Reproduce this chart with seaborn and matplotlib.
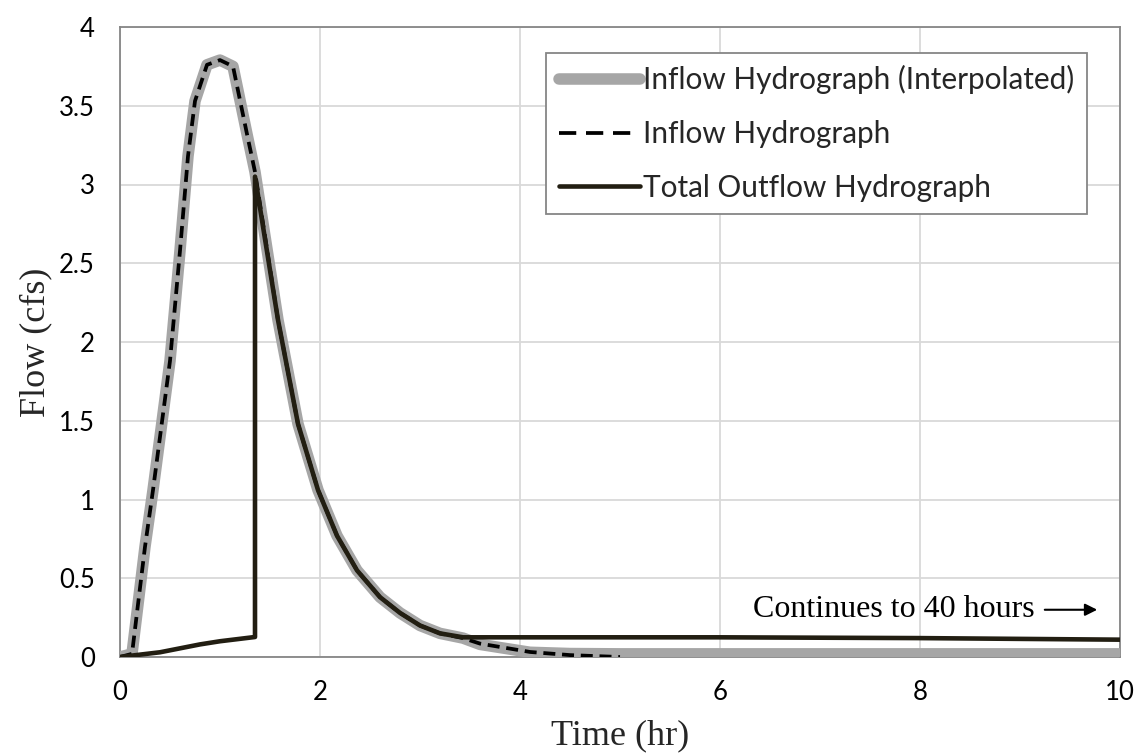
import matplotlib
matplotlib.use("Agg")
import matplotlib.pyplot as plt
import seaborn as sns
import pandas as pd
from matplotlib.ticker import MultipleLocator, FuncFormatter

# ---- data ----
inflow_t = [0.0, 0.12, 0.25, 0.33, 0.5, 0.6, 0.68, 0.75, 0.87, 1.0, 1.13, 1.27, 1.35,
            1.58, 1.78, 1.98, 2.17, 2.37, 2.6, 2.8, 3.0, 3.2, 3.43, 3.6, 4.1, 4.5, 5.0]
inflow_q = [0.0, 0.02, 0.70, 1.06, 1.88, 2.58, 3.18, 3.53, 3.76, 3.79, 3.75, 3.32, 3.08,
            2.14, 1.48, 1.06, 0.77, 0.55, 0.38, 0.28, 0.20, 0.15, 0.12, 0.085, 0.032, 0.012, 0.0]

interp_t = [0.0, 0.12, 0.25, 0.33, 0.5, 0.6, 0.68, 0.75, 0.87, 1.0, 1.13, 1.27, 1.35,
            1.58, 1.78, 1.98, 2.17, 2.37, 2.6, 2.8, 3.0, 3.2, 3.43, 3.6, 4.1, 4.5, 5.0, 10.0]
interp_q = [0.0, 0.02, 0.70, 1.06, 1.88, 2.58, 3.18, 3.53, 3.76, 3.79, 3.75, 3.32, 3.08,
            2.14, 1.48, 1.06, 0.77, 0.55, 0.38, 0.28, 0.20, 0.15, 0.12, 0.08, 0.03, 0.022, 0.02, 0.02]

outflow_t = [0.0, 0.4, 0.8, 1.0, 1.35, 1.35, 1.58, 1.78, 1.98, 2.17, 2.37, 2.6, 2.8,
             3.0, 3.2, 3.43, 6.0, 8.0, 10.0]
outflow_q = [0.0, 0.03, 0.08, 0.10, 0.127, 3.05, 2.14, 1.48, 1.06, 0.77, 0.55, 0.38, 0.28,
             0.20, 0.15, 0.125, 0.125, 0.12, 0.11]

series_labels = ["Inflow Hydrograph (Interpolated)", "Inflow Hydrograph", "Total Outflow Hydrograph"]
x_ticks = [0, 2, 4, 6, 8, 10]
y_ticks = [0, 0.5, 1, 1.5, 2, 2.5, 3, 3.5, 4]
x_title = "Time (hr)"
y_title = "Flow (cfs)"
note_text = "Continues to 40 hours"

# ---- styling ----
sns.set_style("white")
plt.rcParams["font.family"] = ["Lato", "DejaVu Sans"]

W, H = 1137, 756
fig = plt.figure(figsize=(W / 100, H / 100), dpi=100)
ax = fig.add_axes([120 / W, (H - 657) / H, 1000 / W, 630 / H])

df_interp = pd.DataFrame({"t": interp_t, "q": interp_q})
df_in = pd.DataFrame({"t": inflow_t, "q": inflow_q})
df_out = pd.DataFrame({"t": outflow_t, "q": outflow_q})

sns.lineplot(data=df_interp, x="t", y="q", ax=ax, sort=False, estimator=None,
             color="#a6a6a6", linewidth=8.3, solid_capstyle="round",
             solid_joinstyle="round", label=series_labels[0], zorder=3)
sns.lineplot(data=df_in, x="t", y="q", ax=ax, sort=False, estimator=None,
             color="black", linewidth=2.7, label=series_labels[1], zorder=4)
ax.lines[-1].set_dashes([3.2, 1.8])
sns.lineplot(data=df_out, x="t", y="q", ax=ax, sort=False, estimator=None,
             color="#221e12", linewidth=3.3, label=series_labels[2], zorder=5)

ax.set_xlim(0, 10)
ax.set_ylim(0, 4)
ax.set_xticks(x_ticks)
ax.set_yticks(y_ticks)
ax.xaxis.set_minor_locator(MultipleLocator(0.4))
ax.yaxis.set_minor_locator(MultipleLocator(0.1))
fmt = FuncFormatter(lambda v, p: f"{v:g}")
ax.xaxis.set_major_formatter(fmt)
ax.yaxis.set_major_formatter(fmt)

ax.grid(True, which="major", color="#d9d9d9", linewidth=1.3, zorder=0)
ax.set_axisbelow(True)
for s in ax.spines.values():
    s.set_color("#868686")
    s.set_linewidth(1.3)
    s.set_visible(True)

ax.tick_params(axis="both", which="major", direction="inout", length=12, width=1.3,
               color="#868686", labelsize=18.5, labelcolor="black")
ax.tick_params(axis="both", which="minor", direction="in", length=5, width=1.3,
               color="#868686")
ax.tick_params(axis="x", which="major", pad=10.5)
ax.tick_params(axis="y", which="major", pad=12)
ax.tick_params(top=False, right=False, which="both")

ax.set_xlabel(x_title, family="Liberation Serif", fontsize=26, labelpad=10.5)
ax.set_ylabel(y_title, family="Liberation Serif", fontsize=26, labelpad=5)

ax.annotate("", xy=(9.8, 0.30), xytext=(9.22, 0.30),
            arrowprops=dict(arrowstyle="-|>", color="black", lw=1.5,
                            mutation_scale=18))
ax.text(9.15, 0.30, note_text, family="Liberation Serif", fontsize=23,
        ha="right", va="center", color="black")

leg = ax.legend(loc="upper right", bbox_to_anchor=(0.967, 0.959), fontsize=21.4,
                frameon=True, fancybox=False, edgecolor="#868686", framealpha=1,
                handlelength=2.75, handletextpad=0.1, labelspacing=0.86,
                borderpad=0.42, borderaxespad=0)
leg.get_frame().set_linewidth(1.3)
leg.get_lines()[1].set_dashes([4.6, 2.6])

fig.savefig("out.png", dpi=100)
